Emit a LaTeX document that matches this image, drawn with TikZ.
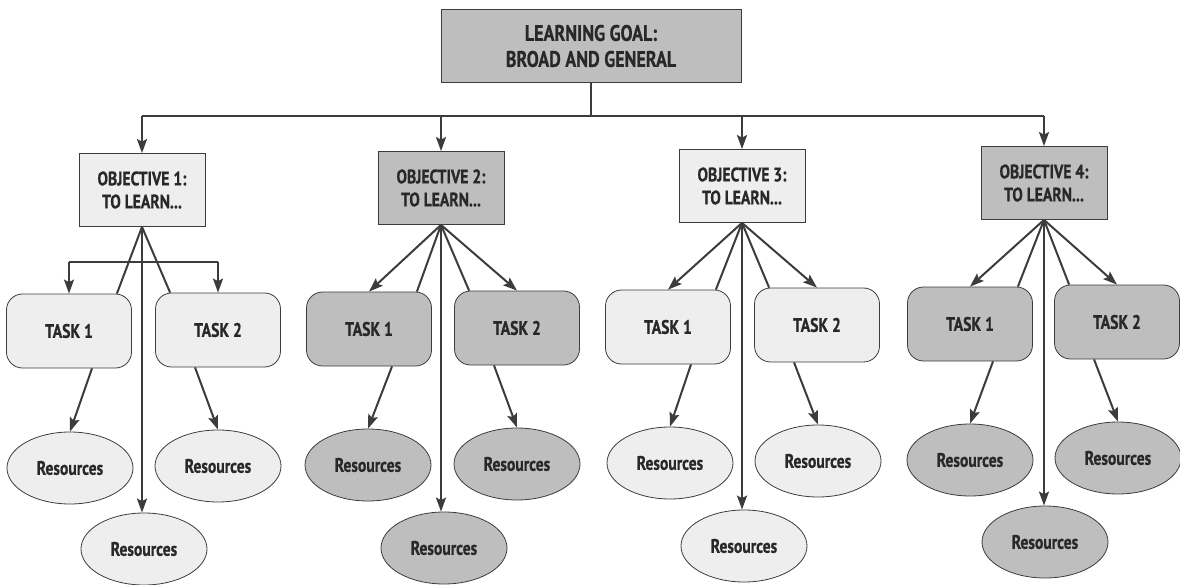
\documentclass[tikz,border=0pt]{standalone}
\usepackage{fontspec}
\setmainfont{PT Sans}[BoldFont={PT Sans Bold}, BoldFeatures={FakeStretch=0.8, FakeBold=0.6}, FakeStretch=0.8]
\usetikzlibrary{arrows.meta,calc,shapes.geometric}
\definecolor{darkf}{RGB}{190,190,190}
\definecolor{lightf}{RGB}{238,238,238}
\definecolor{edgec}{RGB}{60,60,60}
\definecolor{txtc}{RGB}{40,40,40}
\begin{document}
\begin{tikzpicture}[x=1pt,y=-1pt,
  boxline/.style={draw=edgec, line width=0.8pt, text=txtc, align=center, inner sep=0pt},
  goalbox/.style={boxline, minimum width=300pt, minimum height=73pt,
    font=\bfseries\fontsize{22.5}{26}\selectfont},
  objbox/.style={boxline, minimum width=126pt, minimum height=73pt,
    font=\bfseries\fontsize{19.5}{23}\selectfont},
  taskbox/.style={boxline, rounded corners=16pt, minimum width=125pt, minimum height=74pt,
    font=\bfseries\fontsize{19.5}{22}\selectfont},
  resell/.style={boxline, ellipse, minimum width=126pt, minimum height=72pt,
    font=\bfseries\fontsize{19.5}{22}\selectfont},
  dk/.style={fill=darkf}, lt/.style={fill=lightf},
  lnk/.style={draw=edgec, line width=2pt},
  arr/.style={lnk, -{Stealth[length=14pt,width=10pt,inset=2.5pt]}}
]
\useasboundingbox (0,0) rectangle (1180,585);

% goal
\node[goalbox, dk] (goal) at (591,46) {LEARNING GOAL:\\BROAD AND GENERAL};

% objectives
\node[objbox, lt] (o1) at (142,190) {OBJECTIVE 1:\\TO LEARN...};
\node[objbox, dk] (o2) at (441,188) {OBJECTIVE 2:\\TO LEARN...};
\node[objbox, lt] (o3) at (742,186) {OBJECTIVE 3:\\TO LEARN...};
\node[objbox, dk] (o4) at (1044,183) {OBJECTIVE 4:\\TO LEARN...};

% tasks
\node[taskbox, lt] (t11) at (69,331) {TASK 1};
\node[taskbox, lt] (t12) at (218,330) {TASK 2};
\node[taskbox, dk] (t21) at (369,329) {TASK 1};
\node[taskbox, dk] (t22) at (517,328) {TASK 2};
\node[taskbox, lt] (t31) at (668,327) {TASK 1};
\node[taskbox, lt] (t32) at (817,325) {TASK 2};
\node[taskbox, dk] (t41) at (970,324) {TASK 1};
\node[taskbox, dk] (t42) at (1117,322) {TASK 2};

% resources
\node[resell, lt] (r11) at (70,468) {Resources};
\node[resell, lt] (r12) at (218,466) {Resources};
\node[resell, lt] (r13) at (144,549) {Resources};
\node[resell, dk] (r21) at (368,465) {Resources};
\node[resell, dk] (r22) at (517,464) {Resources};
\node[resell, dk] (r23) at (444,548) {Resources};
\node[resell, lt] (r31) at (670,463) {Resources};
\node[resell, lt] (r32) at (818,461) {Resources};
\node[resell, lt] (r33) at (744,546) {Resources};
\node[resell, dk] (r41) at (970,460) {Resources};
\node[resell, dk] (r42) at (1118,458) {Resources};
\node[resell, dk] (r43) at (1045,542) {Resources};

% goal to objectives
\coordinate (bus) at (591,116);
\draw[lnk] (goal.south) -- (bus);
\draw[lnk] (o1.north |- bus) -- (o4.north |- bus);
\foreach \i in {1,2,3,4} {
  \draw[arr] (o\i.north |- bus) -- (o\i.north);
}

% objective 1 (bar to tasks)
\coordinate (bar) at (142,262);
\draw[lnk] (t11.north |- bar) -- (t12.north |- bar);
\draw[arr] (t11.north |- bar) -- (t11.north);
\draw[arr] (t12.north |- bar) -- (t12.north);

% objectives 2-4: arrows to tasks
\foreach \i in {2,3,4} {
  \draw[arr] (o\i.south) -- (t\i1.north);
  \draw[arr] (o\i.south) -- (t\i2.north);
}

% lines to inner task corners, vertical arrows, task-resource arrows
\foreach \i in {1,2,3,4} {
  \draw[lnk] (o\i.south) -- ($(t\i1.north east)+(-15,0)$);
  \draw[lnk] (o\i.south) -- ($(t\i2.north west)+(15,0)$);
  \draw[arr] (o\i.south) -- (o\i.south |- r\i3.north);
  \draw[arr] ($(t\i1.south)+(23,0)$) -- (r\i1.north);
  \draw[arr] ($(t\i2.south)+(-23,0)$) -- (r\i2.north);
}
\end{tikzpicture}
\end{document}
